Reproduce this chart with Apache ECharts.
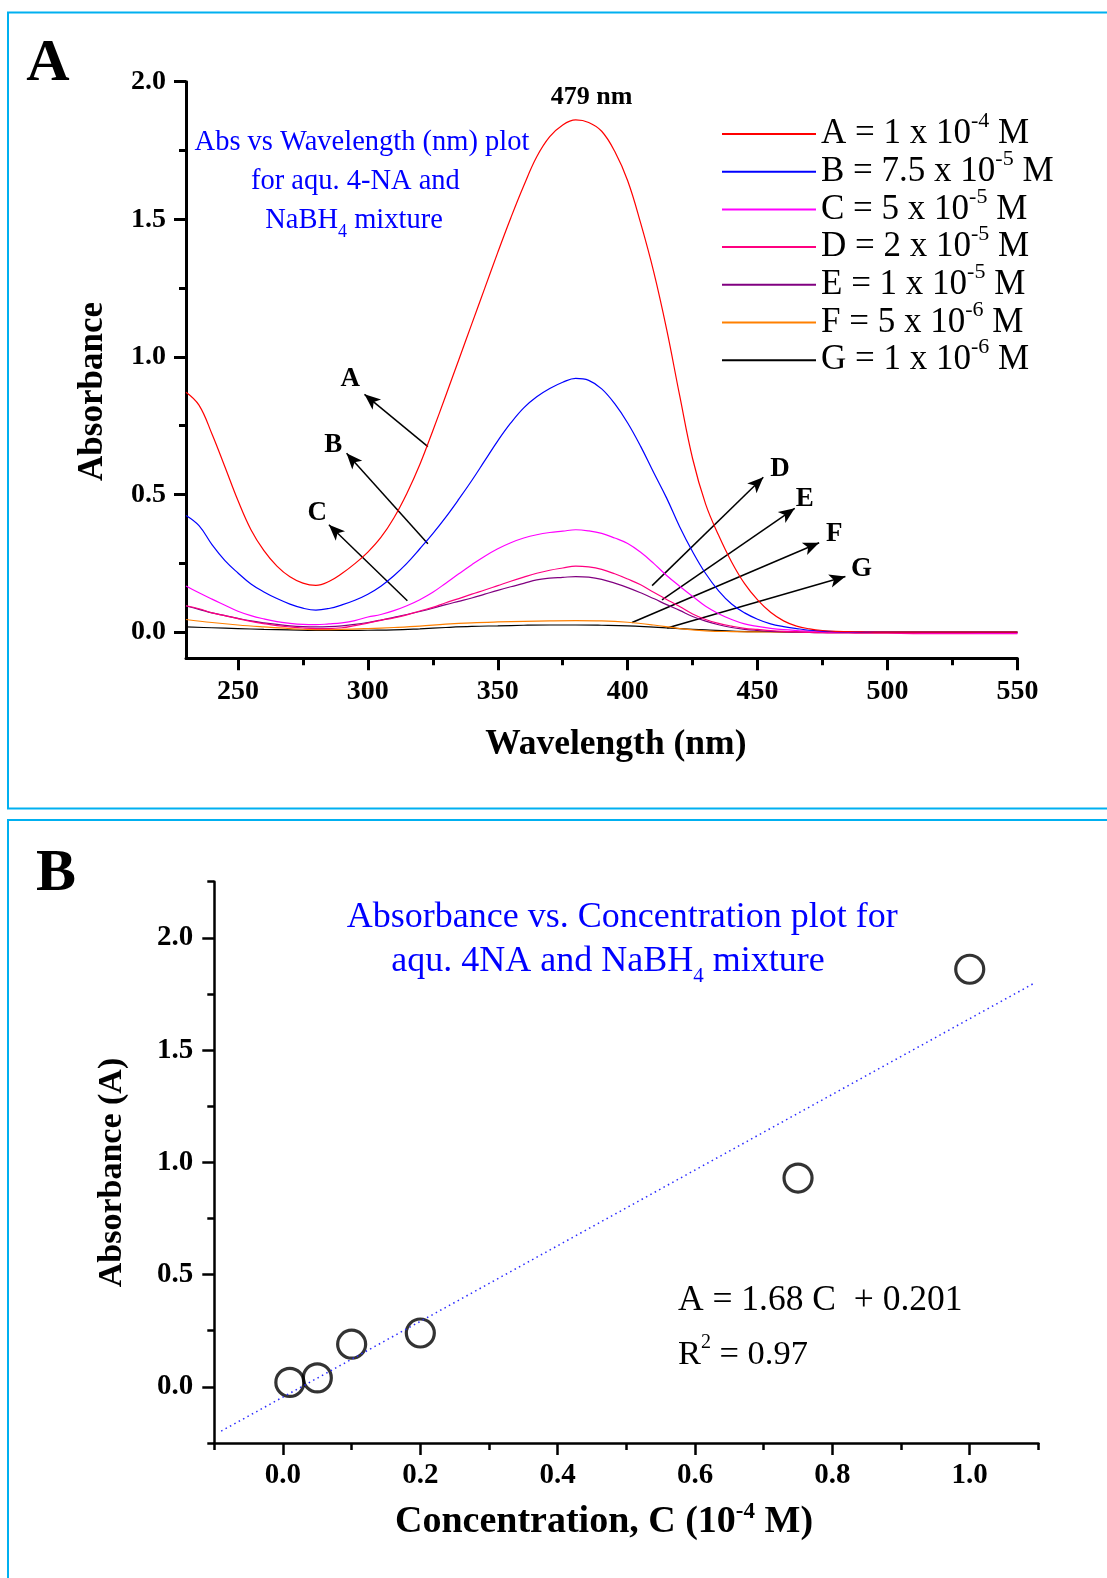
<!DOCTYPE html>
<html>
<head>
<meta charset="utf-8">
<script src="https://cdn.jsdelivr.net/npm/echarts@6/dist/echarts.min.js"></script>
<style>html,body{margin:0;padding:0;background:#fff}#chart{width:1107px;height:1578px}</style>
</head>
<body>
<div id="chart"></div>
<script>
// ---------- Panel A data (UV-vis spectra) ----------
const wavelengthsFine = [230,235,240,245,250,255,260,265,270,275,280,285,290,295,300,305,310,315,320,325,330,335,340,345,350,355,360,365,370,375,380,385,390,395,400,405,410,415,420,425,430,435,440,445,450,455,460,465,470,475,480,485,490,495,500,510,520,530,540,550];
const absA = [0.872,0.825,0.72,0.60,0.478,0.372,0.296,0.24,0.201,0.178,0.17,0.184,0.213,0.249,0.291,0.344,0.415,0.504,0.609,0.732,0.86,0.99,1.12,1.25,1.38,1.505,1.622,1.727,1.80,1.843,1.861,1.852,1.82,1.747,1.64,1.486,1.31,1.10,0.86,0.63,0.465,0.352,0.255,0.176,0.117,0.072,0.041,0.022,0.012,0.006,0.003,0.002,0.001,0,0,0,0,0,0,0];
const absB = [0.424,0.387,0.318,0.26,0.215,0.175,0.146,0.122,0.102,0.087,0.08,0.086,0.099,0.116,0.138,0.167,0.205,0.25,0.303,0.358,0.418,0.483,0.551,0.623,0.695,0.76,0.815,0.855,0.885,0.908,0.922,0.915,0.884,0.83,0.76,0.675,0.58,0.487,0.383,0.292,0.213,0.15,0.102,0.07,0.047,0.03,0.02,0.013,0.007,0.004,0.002,0.001,0,0,0,0,0,0,0,0];
const absC = [0.168,0.143,0.12,0.098,0.076,0.06,0.048,0.038,0.032,0.028,0.027,0.03,0.034,0.042,0.055,0.064,0.078,0.096,0.118,0.145,0.178,0.212,0.245,0.276,0.303,0.325,0.342,0.354,0.362,0.367,0.372,0.368,0.359,0.342,0.322,0.29,0.25,0.206,0.167,0.13,0.094,0.067,0.046,0.03,0.021,0.014,0.009,0.006,0.004,0.002,0.001,0,0,0,-0.001,-0.002,-0.003,-0.003,-0.004,-0.004];
const absD = [0.096,0.085,0.07,0.06,0.049,0.039,0.031,0.024,0.019,0.015,0.013,0.013,0.016,0.024,0.033,0.043,0.052,0.063,0.077,0.09,0.107,0.122,0.138,0.153,0.169,0.185,0.2,0.214,0.225,0.233,0.24,0.237,0.228,0.212,0.193,0.172,0.145,0.119,0.093,0.066,0.046,0.032,0.022,0.014,0.01,0.006,0.003,0.001,-0.001,-0.002,-0.003,-0.003,-0.004,-0.004,-0.004,-0.005,-0.005,-0.005,-0.005,-0.005];
const absE = [0.095,0.083,0.07,0.06,0.05,0.041,0.034,0.028,0.023,0.02,0.019,0.02,0.023,0.028,0.035,0.044,0.054,0.064,0.075,0.087,0.1,0.112,0.124,0.138,0.152,0.165,0.177,0.19,0.196,0.199,0.202,0.2,0.192,0.178,0.162,0.143,0.122,0.1,0.079,0.057,0.04,0.027,0.017,0.01,0.006,0.003,0.001,0,-0.001,-0.002,-0.002,-0.002,-0.002,-0.002,-0.002,-0.002,-0.002,-0.002,-0.002,-0.002];
const wavelengthsCoarse = [230,240,250,260,270,280,290,300,310,320,330,340,350,360,370,380,390,400,410,420,430,440,450,460,470,480,490,500,510,520,530,540,550];
const absF = [0.046,0.035,0.026,0.019,0.013,0.009,0.01,0.013,0.017,0.022,0.029,0.034,0.037,0.039,0.041,0.042,0.041,0.036,0.026,0.013,0.005,0.002,0.001,0,0,0,0,0,0,0,0,0,0];
const absG = [0.019,0.016,0.013,0.01,0.008,0.006,0.006,0.007,0.008,0.012,0.017,0.021,0.023,0.025,0.026,0.026,0.025,0.023,0.018,0.013,0.008,0.004,0.002,0.001,0,0,0,0,0,0,0,0,0];

const seriesNames = ['A','B','C','D','E','F','G'];
const seriesColors = ['#FF0000','#0000FF','#FF00FF','#FF0080','#800080','#FF8000','#000000'];
const legendLabels = [
  '{n|A = 1 x 10}{s|-4}{n| M}',
  '{n|B = 7.5 x 10}{s|-5}{n| M}',
  '{n|C = 5 x 10}{s|-5}{n| M}',
  '{n|D = 2 x 10}{s|-5}{n| M}',
  '{n|E = 1 x 10}{s|-5}{n| M}',
  '{n|F = 5 x 10}{s|-6}{n| M}',
  '{n|G = 1 x 10}{s|-6}{n| M}'
];

const topXMajor = [250,300,350,400,450,500,550];
const topXMinor = [275,325,375,425,475,525];
const topYMajor = [0,0.5,1.0,1.5,2.0];
const topYMinor = [0.25,0.75,1.25,1.75];

// annotation arrows (data coords): tail -> head, label
const arrowTails = [[323.1,0.674],[323.1,0.321],[315.2,0.114],[409.4,0.169],[413.2,0.117],[401.7,0.035],[415.2,0.015]];
const arrowHeads = [[298.7,0.864],[291.8,0.65],[285,0.39],[452.2,0.563],[464.3,0.45],[473.7,0.325],[483.8,0.202]];
const arrowLabelPos = [[293.2,0.918],[286.7,0.681],[280.5,0.432],[458.6,0.593],[468.2,0.483],[479.5,0.356],[490,0.231]];
const peakLabel = '479 nm';
const peakLabelPos = [386.1,1.942];

// ---------- Panel B data (calibration) ----------
const concentration = [0.01,0.05,0.1,0.2,0.75,1.0];
const peakAbsorbance = [0.02,0.04,0.19,0.24,0.93,1.86];
const fitX = [-0.09,1.095];
const fitY = [-0.197,1.80];
const botXMajor = [0,0.2,0.4,0.6,0.8,1.0];
const botXMinor = [-0.1,0.1,0.3,0.5,0.7,0.9,1.1];
const botYMajor = [0,0.5,1.0,1.5,2.0];
const botYMinor = [-0.25,0.25,0.75,1.25,1.75,2.25];

const FONT = '"Liberation Serif", "Times New Roman", Times, serif';
const zip = (xs, ys) => xs.map((x, i) => [x, ys[i]]);

const chart = echarts.init(document.getElementById('chart'), null, {renderer: 'canvas'});

function majorX(gridIndex, min, max, ticks, opts) {
  return {
    type: 'value', gridIndex, min, max, position: 'bottom',
    axisLine: {show: true, onZero: false, lineStyle: {color: '#000', width: opts.lw}},
    axisTick: {show: true, customValues: ticks, length: 12, lineStyle: {color: '#000', width: opts.lw}},
    axisLabel: {show: true, customValues: ticks, margin: opts.margin, color: '#000', fontFamily: FONT, fontWeight: 'bold', fontSize: opts.fs, formatter: opts.fmt},
    splitLine: {show: false}
  };
}
function minorX(gridIndex, min, max, ticks, lw) {
  return {
    type: 'value', gridIndex, min, max, position: 'bottom',
    axisLine: {show: false, onZero: false},
    axisTick: {show: true, customValues: ticks, length: 7, lineStyle: {color: '#000', width: lw}},
    axisLabel: {show: false}, splitLine: {show: false}
  };
}
function majorY(gridIndex, min, max, ticks, opts) {
  return {
    type: 'value', gridIndex, min, max, position: 'left',
    axisLine: {show: true, onZero: false, lineStyle: {color: '#000', width: opts.lw}},
    axisTick: {show: true, customValues: ticks, length: 12, lineStyle: {color: '#000', width: opts.lw}},
    axisLabel: {show: true, customValues: ticks, margin: opts.margin, color: '#000', fontFamily: FONT, fontWeight: 'bold', fontSize: opts.fs, formatter: v => Number(v).toFixed(1)},
    splitLine: {show: false}
  };
}
function minorY(gridIndex, min, max, ticks, lw) {
  return {
    type: 'value', gridIndex, min, max, position: 'left',
    axisLine: {show: false, onZero: false},
    axisTick: {show: true, customValues: ticks, length: 7, lineStyle: {color: '#000', width: lw}},
    axisLabel: {show: false}, splitLine: {show: false}
  };
}

const spectraSeries = seriesNames.map((name, i) => {
  const coarse = (name === 'F' || name === 'G');
  const ys = [absA, absB, absC, absD, absE, absF, absG][i];
  return {
    name, type: 'line', xAxisIndex: 0, yAxisIndex: 0,
    data: zip(coarse ? wavelengthsCoarse : wavelengthsFine, ys),
    showSymbol: false, smooth: 0.4, z: 10 - i,
    lineStyle: {color: seriesColors[i], width: 1.2},
    itemStyle: {color: seriesColors[i]},
    emphasis: {disabled: true}
  };
});

const annotationSeries = {
  name: 'annotations', type: 'line', xAxisIndex: 0, yAxisIndex: 0, data: [], silent: true, z: 20,
  markLine: {
    silent: true, animation: false,
    symbol: ['none', 'arrow'], symbolSize: [10, 16],
    lineStyle: {color: '#000', width: 1.5, type: 'solid'},
    label: {show: false},
    emphasis: {disabled: true},
    data: arrowTails.map((t, i) => [{coord: t}, {coord: arrowHeads[i]}])
  },
  markPoint: {
    silent: true, animation: false, symbol: 'circle', symbolSize: 0,
    label: {show: true, position: 'inside', formatter: p => p.name, color: '#000', fontFamily: FONT, fontWeight: 'bold', fontSize: 27},
    itemStyle: {color: 'rgba(0,0,0,0)'},
    data: seriesNames.map((n, i) => ({name: n, coord: arrowLabelPos[i]})).concat([{name: peakLabel, coord: peakLabelPos, label: {fontSize: 26}}])
  }
};

function richText(x, y, text, align, rich, extra) {
  return Object.assign({type: 'text', z: 50, x, y, silent: true, style: {text, align, verticalAlign: 'middle', rich}}, extra || {});
}

const option = {
  backgroundColor: '#fff',
  animation: false,
  grid: [
    {left: 186, top: 81.7, width: 831.4, height: 576.6, containLabel: false},
    {left: 214.3, top: 881.7, width: 824.1, height: 561.3, containLabel: false}
  ],
  xAxis: [
    majorX(0, 230, 550, topXMajor, {lw: 3, margin: 19, fs: 28, fmt: v => String(v)}),
    minorX(0, 230, 550, topXMinor, 3),
    majorX(1, -0.1, 1.1, botXMajor, {lw: 2.5, margin: 18, fs: 29, fmt: v => Number(v).toFixed(1)}),
    minorX(1, -0.1, 1.1, botXMinor, 2.5)
  ],
  yAxis: [
    majorY(0, -0.095, 2.0, topYMajor, {lw: 3, margin: 20, fs: 28}),
    minorY(0, -0.095, 2.0, topYMinor, 3),
    majorY(1, -0.25, 2.25, botYMajor, {lw: 2.5, margin: 21, fs: 29}),
    minorY(1, -0.25, 2.25, botYMinor, 2.5)
  ],
  legend: {
    orient: 'vertical', left: 717, top: 105.5,
    itemWidth: 94, itemHeight: 2, itemGap: -3.3, icon: 'rect',
    data: seriesNames,
    selectedMode: false,
    formatter: name => legendLabels[seriesNames.indexOf(name)],
    textStyle: {
      color: '#000', fontFamily: FONT, fontSize: 35,
      rich: {
        n: {fontFamily: FONT, fontSize: 35, lineHeight: 30, height: 30, color: '#000'},
        s: {fontFamily: FONT, fontSize: 22, lineHeight: 5, height: 5, verticalAlign: 'top', color: '#000'}
      }
    }
  },
  series: spectraSeries.concat([
    annotationSeries,
    {
      name: 'fit', type: 'line', xAxisIndex: 2, yAxisIndex: 2,
      data: zip(fitX, fitY), showSymbol: false, silent: true,
      lineStyle: {color: '#2a2aff', width: 1.5, type: [1.5, 3.5]}
    },
    {
      name: 'points', type: 'scatter', xAxisIndex: 2, yAxisIndex: 2,
      data: zip(concentration, peakAbsorbance),
      symbol: 'circle', symbolSize: 28, silent: true,
      itemStyle: {color: 'rgba(0,0,0,0)', borderColor: '#000', borderWidth: 3.2}
    }
  ]),
  graphic: [
    {type: 'rect', z: 0, silent: true, shape: {x: 8, y: 12.5, width: 1110, height: 796}, style: {fill: 'none', stroke: '#00B0F0', lineWidth: 2}},
    {type: 'rect', z: 0, silent: true, shape: {x: 8, y: 820, width: 1110, height: 800}, style: {fill: 'none', stroke: '#00B0F0', lineWidth: 2}},
    {type: 'text', z: 50, x: 48, y: 64, style: {text: 'A', fontFamily: FONT, fontWeight: 'bold', fontSize: 60, fill: '#000', align: 'center', verticalAlign: 'middle'}},
    {type: 'text', z: 50, x: 56, y: 874, style: {text: 'B', fontFamily: FONT, fontWeight: 'bold', fontSize: 60, fill: '#000', align: 'center', verticalAlign: 'middle'}},
    {type: 'text', z: 50, x: 615.8, y: 745, style: {text: 'Wavelength (nm)', fontFamily: FONT, fontWeight: 'bold', fontSize: 35.5, fill: '#000', align: 'center', verticalAlign: 'middle'}},
    {type: 'text', z: 50, x: 92.6, y: 391.5, rotation: Math.PI / 2, style: {text: 'Absorbance', fontFamily: FONT, fontWeight: 'bold', fontSize: 35, fill: '#000', align: 'center', verticalAlign: 'middle'}},
    {type: 'text', z: 50, x: 362, y: 142.5, style: {text: 'Abs vs Wavelength (nm) plot', fontFamily: FONT, fontSize: 28.5, fill: '#0000FF', align: 'center', verticalAlign: 'middle'}},
    {type: 'text', z: 50, x: 355.4, y: 181.7, style: {text: 'for aqu. 4-NA and', fontFamily: FONT, fontSize: 28.5, fill: '#0000FF', align: 'center', verticalAlign: 'middle'}},
    richText(354, 220.5, '{n|NaBH}{b|4}{n| mixture}', 'center', {
      n: {fontFamily: FONT, fontSize: 28.5, lineHeight: 24, height: 24, fill: '#0000FF'},
      b: {fontFamily: FONT, fontSize: 18, lineHeight: 1, height: 1, verticalAlign: 'bottom', fill: '#0000FF'}}),
    richText(604, 1522, '{n|Concentration, C (10}{s|-4}{n| M)}', 'center', {
      n: {fontFamily: FONT, fontWeight: 'bold', fontSize: 38, lineHeight: 20, height: 20, fill: '#000'},
      s: {fontFamily: FONT, fontWeight: 'bold', fontSize: 23, lineHeight: 1, height: 1, verticalAlign: 'top', fill: '#000'}}),
    {type: 'text', z: 50, x: 112.7, y: 1172.5, rotation: Math.PI / 2, style: {text: 'Absorbance (A)', fontFamily: FONT, fontWeight: 'bold', fontSize: 34, fill: '#000', align: 'center', verticalAlign: 'middle'}},
    {type: 'text', z: 50, x: 622.2, y: 917.5, style: {text: 'Absorbance vs. Concentration plot for', fontFamily: FONT, fontSize: 36, fill: '#0000FF', align: 'center', verticalAlign: 'middle'}},
    richText(608, 961.7, '{n|aqu. 4NA and NaBH}{b|4}{n| mixture}', 'center', {
      n: {fontFamily: FONT, fontSize: 36, lineHeight: 31, height: 31, fill: '#0000FF'},
      b: {fontFamily: FONT, fontSize: 21, lineHeight: 1, height: 1, verticalAlign: 'bottom', fill: '#0000FF'}}),
    {type: 'text', z: 50, x: 677.9, y: 1300.5, style: {text: 'A = 1.68 C  + 0.201', fontFamily: FONT, fontSize: 35.5, fill: '#000', align: 'left', verticalAlign: 'middle'}},
    richText(677.9, 1354.5, '{n|R}{s|2}{n| = 0.97}', 'left', {
      n: {fontFamily: FONT, fontSize: 34.5, lineHeight: 25, height: 25, fill: '#000'},
      s: {fontFamily: FONT, fontSize: 20, lineHeight: 1, height: 1, verticalAlign: 'top', fill: '#000'}})
  ]
};

chart.setOption(option);
</script>
</body>
</html>
